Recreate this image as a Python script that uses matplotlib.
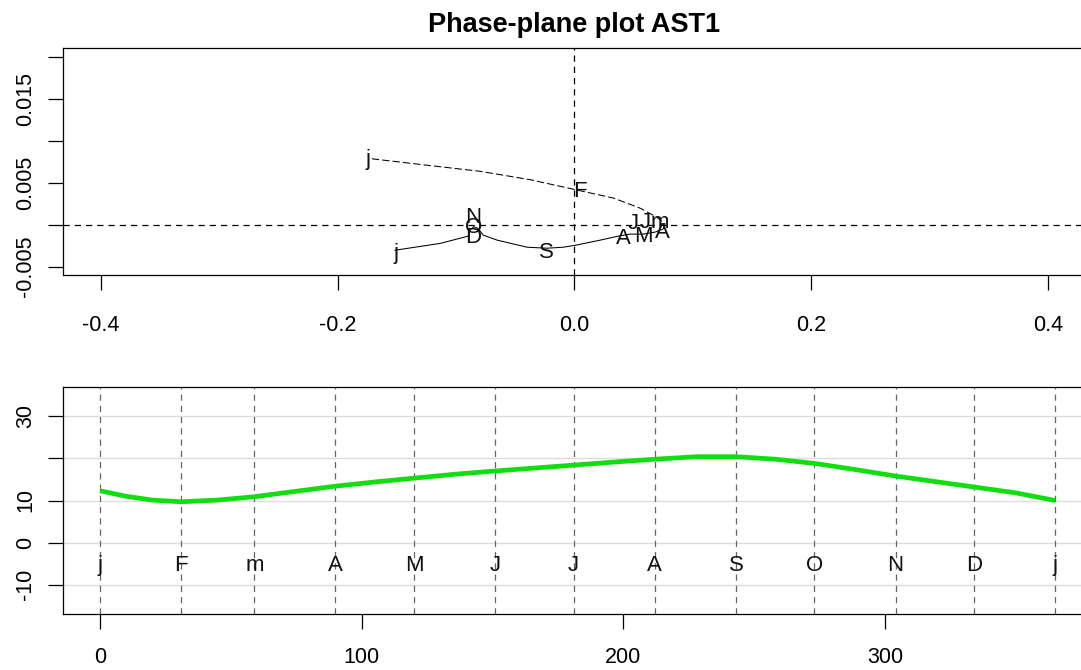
import matplotlib
matplotlib.use('Agg')
import matplotlib.pyplot as plt

plt.rcParams['font.family'] = ['Liberation Sans', 'DejaVu Sans']

# ---------------- data ----------------
month_labels = ['j', 'F', 'm', 'A', 'M', 'J', 'J', 'A', 'S', 'O', 'N', 'D', 'j']

# phase-plane curve, first half (long-dashed)
vel_first = [-0.1712, -0.1219, -0.0797, -0.0374, 0.0012, 0.0330, 0.0555, 0.0696, 0.0766]
acc_first = [0.00784, 0.00703, 0.00635, 0.00535, 0.00415, 0.00316, 0.00196, 0.00088, 0.00007]

# phase-plane curve, second half (solid)
vel_second = [0.0766, 0.0749, 0.0682, 0.0580, 0.0471, 0.0370, 0.0217, 0.0012, -0.0095,
              -0.0231, -0.0400, -0.0653, -0.0771, -0.0815, -0.0850, -0.0880, -0.0898,
              -0.1135, -0.1517]
acc_second = [0.00007, -0.00053, -0.00089, -0.00113, -0.00113, -0.00137, -0.00185, -0.00245,
              -0.00269, -0.00281, -0.00269, -0.00185, -0.00125, -0.00045, -0.00025, -0.00060,
              -0.00137, -0.00224, -0.00305]

# month label positions on the phase plane
label_vel = [-0.1744, 0.0048, 0.0724, 0.0741, 0.0580, 0.0597, 0.0496, 0.0412, -0.0233,
             -0.0853, -0.0853, -0.0853, -0.1507]
label_acc = [0.00775, 0.00395, 0.0003, -0.0009, -0.00137, 0.0002, 0.0001, -0.0016, -0.0033,
             -0.0003, 0.0009, -0.0015, -0.0034]

# lower panel: day-of-year curve
month_days = [0, 31, 59, 90, 120, 151, 181, 212, 243, 273, 304, 334, 365]
curve_days = [0, 10, 20, 31, 45, 59, 75, 90, 105, 120, 135, 151, 166, 181, 196, 212,
              228, 243, 258, 273, 288, 304, 319, 334, 350, 365]
curve_vals = [12.3, 11.0, 10.1, 9.7, 10.1, 10.9, 12.2, 13.4, 14.4, 15.3, 16.2, 17.0, 17.7,
              18.4, 19.1, 19.8, 20.4, 20.4, 19.8, 18.8, 17.4, 15.8, 14.5, 13.2, 11.8, 10.0]
month_label_y = -5.5

top_xticks = [-0.4, -0.2, 0.0, 0.2, 0.4]
top_xticklabels = ['-0.4', '-0.2', '0.0', '0.2', '0.4']
top_yticks = [-0.005, 0.0, 0.005, 0.01, 0.015, 0.02]
top_yticklabels = ['-0.005', '', '0.005', '', '0.015', '']
bot_xticks = [0, 100, 200, 300]
bot_yticks = [-10, 0, 10, 20, 30]
bot_yticklabels = ['-10', '0', '10', '', '30']

# ---------------- figure ----------------
W, H = 1081, 670
fig = plt.figure(figsize=(W / 100, H / 100), dpi=100)

def frac(l, t, r, b):
    return [l / W, 1 - b / H, (r - l) / W, (b - t) / H]

ax1 = fig.add_axes(frac(63.3, 48.3, 1085.6, 275.0))
ax2 = fig.add_axes(frac(63.3, 386.7, 1085.6, 614.3))

tick_fs = 15.5
lab_fs = 16

for ax in (ax1, ax2):
    for s in ax.spines.values():
        s.set_linewidth(0.9)
        s.set_color('black')
    ax.tick_params(direction='out', length=10.5, width=0.9, labelsize=tick_fs, colors='black')
    ax.tick_params(axis='y', pad=9)
ax1.tick_params(axis='x', pad=18)
ax2.tick_params(axis='x', pad=13)

# top panel
ax1.set_xlim(-0.432, 0.432)
ax1.set_ylim(-0.006, 0.021)
ax1.axhline(0, color='black', lw=0.9, ls=(0, (5, 4)))
ax1.axvline(0, color='black', lw=0.9, ls=(0, (5, 4)))
ax1.plot(vel_first, acc_first, color='black', lw=0.75, ls=(0, (7, 3)))
ax1.plot(vel_second, acc_second, color='black', lw=0.75, ls='-')
for lab, xv, yv in zip(month_labels, label_vel, label_acc):
    ax1.text(xv, yv, lab, ha='center', va='center', fontsize=lab_fs, color='#111111')
ax1.set_xticks(top_xticks)
ax1.set_xticklabels(top_xticklabels)
ax1.set_yticks(top_yticks)
ax1.set_yticklabels(top_yticklabels, rotation=90, va='center')
ax1.set_title('Phase-plane plot AST1', fontsize=19.5, fontweight='bold', pad=12)

# bottom panel
ax2.set_xlim(-14.0, 376.6)
ax2.set_ylim(-17, 37)
for yv in bot_yticks:
    ax2.axhline(yv, color='#dcdcdc', lw=1.0, zorder=0)
for d in month_days:
    ax2.axvline(d, color='#666666', lw=0.9, ls=(0, (5, 4)), zorder=1)
ax2.plot(curve_days, curve_vals, color='#11dd11', lw=3.4, solid_capstyle='butt', zorder=3)
for lab, d in zip(month_labels, month_days):
    ax2.text(d, month_label_y, lab, ha='center', va='center', fontsize=lab_fs, color='#111111', zorder=4)
ax2.set_xticks(bot_xticks)
ax2.set_xticklabels([str(v) for v in bot_xticks])
ax2.set_yticks(bot_yticks)
ax2.set_yticklabels(bot_yticklabels, rotation=90, va='center')

fig.savefig('out.png', dpi=100)
